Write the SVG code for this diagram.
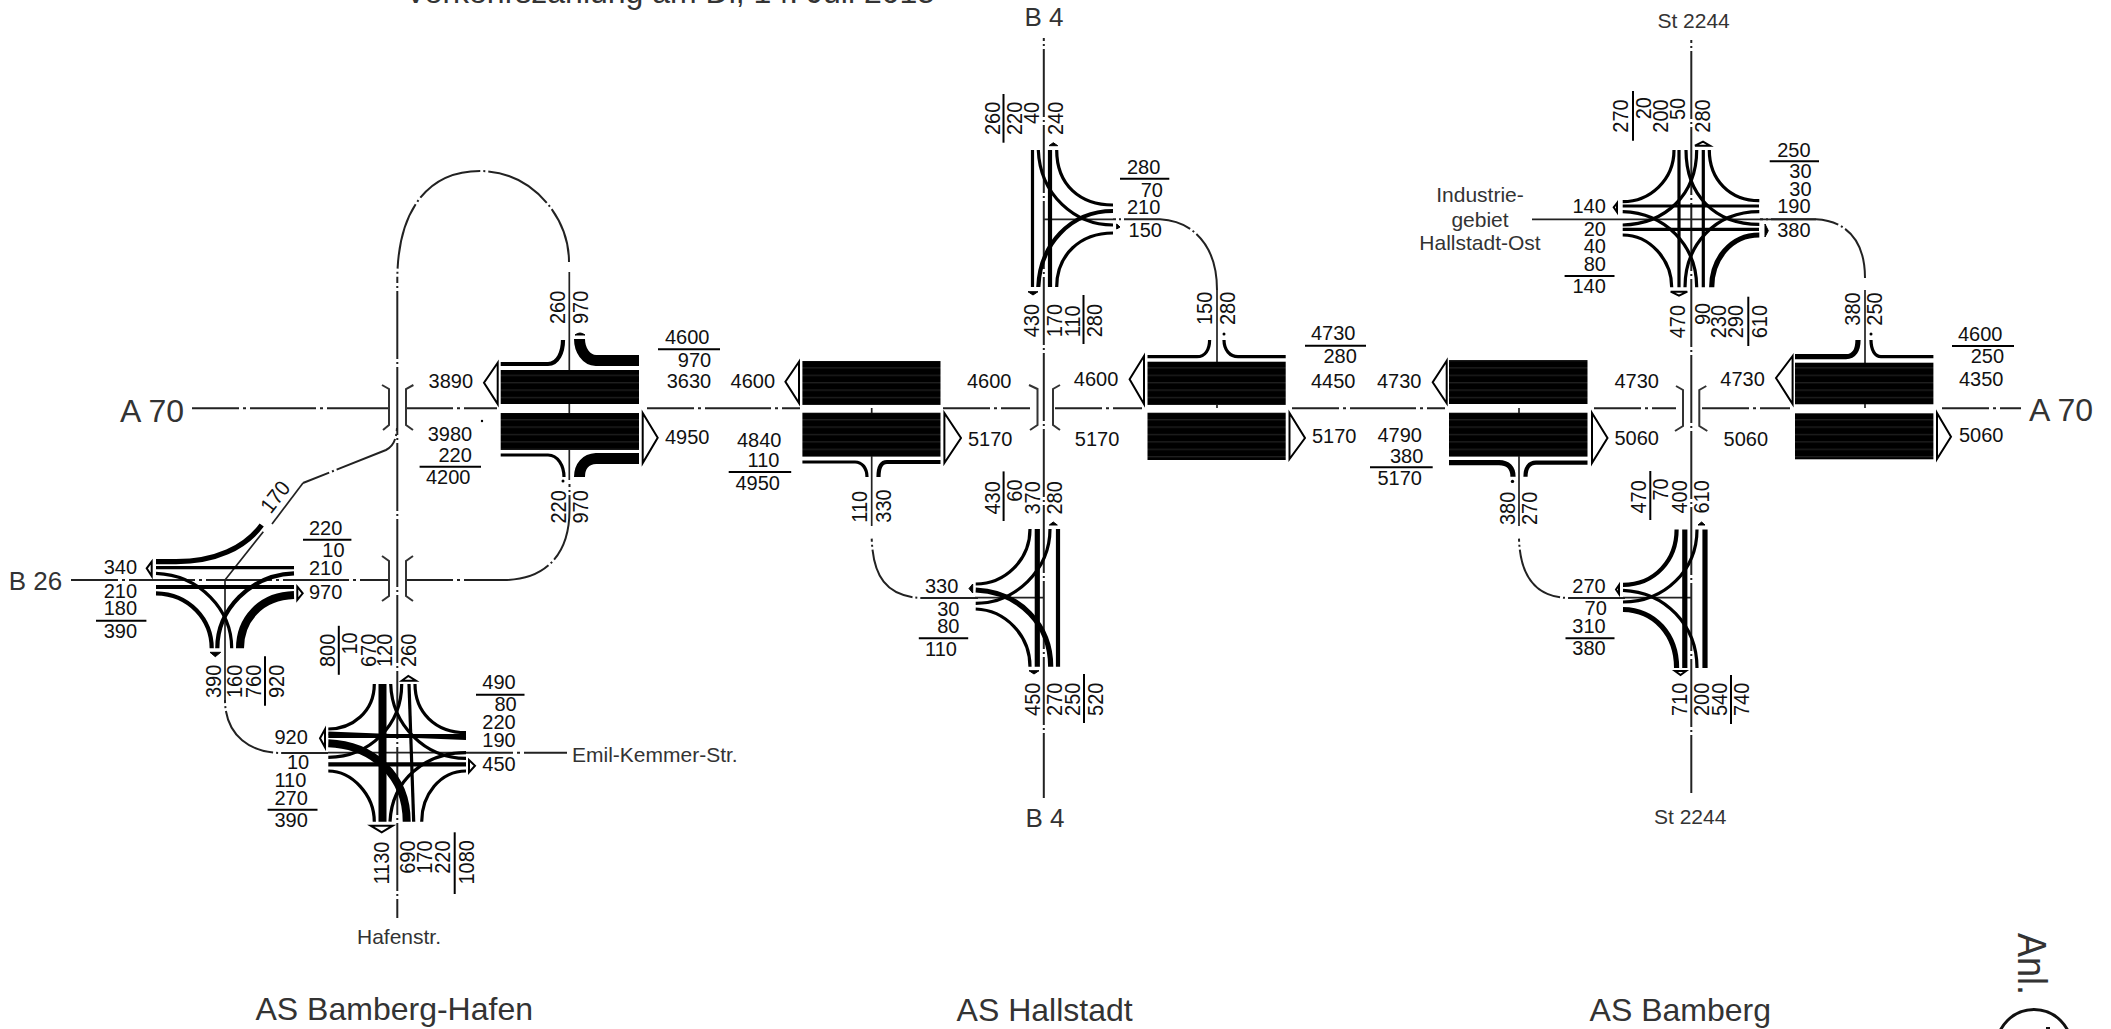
<svg xmlns="http://www.w3.org/2000/svg" width="2111" height="1029" viewBox="0 0 2111 1029">
<style>
text{font-family:"Liberation Sans",Arial,sans-serif;font-size:20px;fill:#111}
.r{fill:#333;font-size:21px}
.b{fill:#333;font-size:26px}
.h{fill:#333;font-size:32px}
.ax,.lk,.l,.u,.ar{fill:none;stroke:#000}
.ax{stroke:#222;stroke-width:2;stroke-dasharray:66 4 3 4;stroke-dashoffset:19}
.lk{stroke:#222;stroke-width:2;stroke-dasharray:68 3 2 3;stroke-dashoffset:65}
.th{fill:none;stroke:#222;stroke-width:1.7}
.u{stroke-width:2}
.ar{stroke-width:2;fill:#fff}
.sa{fill:#000;stroke:#000;stroke-width:1}
.w2{stroke-width:2.4}.w3{stroke-width:3.2}.w4{stroke-width:4.2}.w5{stroke-width:5.2}.w8{stroke-width:8}.w11{stroke-width:11}
.br{fill:none;stroke:#333;stroke-width:2}
</style>
<defs>
<pattern id="st" width="10" height="7.4" patternUnits="userSpaceOnUse"><rect width="10" height="7.4" fill="#000"/><rect y="5" width="10" height="0.8" fill="#fff" opacity=".2"/></pattern>
</defs>
<rect width="2111" height="1029" fill="#fff"/>

<g id="connectors">
<path class="ax" d="M192 408.3H389M406 408.3H497M647 408.3H800M943 408.3H1030M1055 408.3H1142M1292 408.3H1445M1594 408.3H1676M1702 408.3H1790M1942 408.3H2021"/>
<path class="ax" d="M71 580H389M406 580H504"/>
<path class="lk" d="M397.3 280V918"/>
<path class="lk" d="M1043.8 38V798"/>
<path class="lk" d="M1691.3 40V793"/>
<path class="lk" d="M397.3 280C397.3 210 428 171 480 171C530 171 569 215 569 262"/>
<path class="th" d="M569.3 272V480"/>
<path class="lk" d="M569.5 484V510C569.5 555 545 580 504 580"/>
<path class="lk" d="M397 428C396 442 392 447 386 450L303 483"/>
<path class="th" d="M303 483L272 524"/>
<path class="th" d="M263.3 531.7L225 580V700"/>
<path class="lk" d="M225 700C225 735 250 753 281 753H328"/>
<path class="ax" d="M466 752.7H567"/>
<path class="th" d="M328 752.7H466"/>
<path class="th" d="M871.7 408V526"/>
<path class="lk" d="M871.7 538.6C873 575 885 598 925 598H978"/>
<path class="th" d="M975 597.7H1044"/>
<path class="th" d="M1044 219.3H1113"/>
<path class="lk" d="M1113 219.3H1160C1195 221 1217 248 1217 290"/>
<path class="th" d="M1217 290V408"/>
<path class="th" d="M1519 408V526"/>
<path class="lk" d="M1519 538.6C1520 575 1535 598 1570 598H1625"/>
<path class="th" d="M1623 597.7H1691"/>
<path class="th" d="M1532 219.3H1816"/>
<path class="lk" d="M1760 219.3H1816C1850 221 1865 245 1865 278"/>
<path class="th" d="M1865 290V408"/>
<path class="br" d="M382 385L389 389V425L383 430M413.4 385L406 389V425L413 430"/>
<path class="br" d="M382 556L389 561V596L382 601M413 556L406 561V596L413 601"/>
<path class="br" d="M1029 385L1037.5 389V425L1030 430M1060 385L1053 389V425L1060 430"/>
<path class="br" d="M1676 386L1683 390V426L1675 431M1706.3 386L1699.3 390V426L1707.3 431"/>
</g>

<g id="as-bamberg-hafen-ramps">
<rect x="500.7" y="370" width="138.3" height="34" fill="url(#st)"/>
<rect x="500.7" y="413" width="138.3" height="37" fill="url(#st)"/>
<path class="l w4" d="M500.7 364H548C558 364 563 352 563 340"/>
<path class="l w11" d="M639 360.5H596C586 360 579.5 350 579.5 339"/>
<path class="l w3" d="M500.7 455H548C558 455 564 466 564 477"/>
<path class="l w11" d="M639 458.5H596C586 459 579.5 466 579.5 477"/>
<path class="sa" d="M575 335Q580 331 585 335Z"/>
<circle cx="563" cy="481" r="1.5"/><circle cx="482" cy="421" r="1.2"/>
<path class="ar" d="M497.7 362.7L484 382.7L497.7 404Z"/>
<path class="ar" d="M642.7 413L657.7 437.7L642.7 463Z"/>
<text x="428.6" y="388.3">3890</text>
<text x="427.7" y="440.7">3980</text>
<text x="438.4" y="461.7">220</text>
<path class="u" d="M419.6 466.7H481"/>
<text x="426" y="484">4200</text>
<text x="665" y="344">4600</text>
<path class="u" d="M658 349.3H720"/>
<text x="677.8" y="367">970</text>
<text x="666.7" y="388.3">3630</text>
<text x="665" y="444.3">4950</text>
<text transform="translate(565 324) rotate(-90) scale(1 1.08)">260</text>
<text transform="translate(588 324) rotate(-90) scale(1 1.08)">970</text>
<text transform="translate(566 523.6) rotate(-90) scale(1 1.08)">220</text>
<text transform="translate(588 523.6) rotate(-90) scale(1 1.08)">970</text>
</g>

<g id="as-bamberg-hafen-west">
<path class="l w3" d="M156 567.7H294"/>
<path class="l w4" d="M156 587H294"/>
<path class="l w5" d="M156 561.7H176C215 561.7 245 548 261.7 525"/>
<path class="l w3" d="M156 573.3C200 575 231.7 610 231.7 648.3"/>
<path class="l w4" d="M156 593.3C190 594 211.7 620 211.7 648.3"/>
<path class="l w4" d="M294 573.3C250 575 217.3 610 217.3 648.3"/>
<path class="l w8" d="M294 595C260 596 240 620 240 648.3"/>
<path class="ar" d="M151.7 561.7L146.7 568.3L151.7 576Z"/>
<path class="ar" d="M297.3 586.7L302.7 593.3L297.3 600Z"/>
<path class="sa" d="M210 652.3H220.7L215.3 656.7Z"/>
<text x="103.7" y="574.2">340</text>
<text x="103.7" y="597.8">210</text>
<text x="103.7" y="615.4">180</text>
<path class="u" d="M96 620.8H146.4"/>
<text x="103.7" y="637.7">390</text>
<text x="309" y="535.4">220</text>
<path class="u" d="M303 539.8H351.4"/>
<text x="322.3" y="557.4">10</text>
<text x="309" y="575">210</text>
<text x="309" y="598.5">970</text>
<text transform="translate(220.5 698) rotate(-90) scale(1 1.08)">390</text>
<text transform="translate(242.4 698) rotate(-90) scale(1 1.08)">160</text>
<text transform="translate(260.8 698) rotate(-90) scale(1 1.08)">760</text>
<text transform="translate(283.6 698) rotate(-90) scale(1 1.08)">920</text>
<path class="u" d="M265 656.2V705.8"/>
<text transform="translate(281 501.5) rotate(-52) scale(1 1.08)" text-anchor="middle">170</text>
</g>

<g id="as-bamberg-hafen-south">
<path class="l w4" d="M328.3 736H466"/>
<path class="l w3" d="M328.3 733L466 738.5"/>
<path class="l w4" d="M328.3 764.3H466"/>
<path class="l w8" d="M382.5 684V821.7"/>
<path class="l w3" d="M409 684L413.7 821.7"/>
<path class="l w3" d="M374.3 684C374.3 712 352 729 328.3 729"/>
<path class="l w3" d="M415 684C415 712 435 732.7 466 732.7"/>
<path class="l w3" d="M374.3 821.7C374.3 795 352 771 328.3 771"/>
<path class="l w3" d="M421.7 821.7C421.7 795 440 771 466 771"/>
<path class="l w8" d="M328.3 743.3C372 745 406.7 775 406.7 821.7"/>
<path class="l w3" d="M390.7 684C392 725 425 758.3 466 758.3"/>
<path class="l w3" d="M328.3 757.3C370 757 401.7 725 401.7 684"/>
<path class="l w3" d="M390 821.7C392 780 425 752.7 466 752.7"/>
<path class="ar" d="M325 729.3L320 738.3L325 747.3Z"/>
<path class="ar" d="M401.7 680.7L408.3 676L416 680.7Z"/>
<path class="ar" d="M370.7 825.7H392.7L381.7 832.3Z"/>
<path class="ar" d="M469 760L475 765.7L469 772.3Z"/>
<text transform="translate(335.4 667) rotate(-90) scale(1 1.08)">800</text>
<text transform="translate(357.2 654.5) rotate(-90) scale(1 1.08)">10</text>
<path class="u" d="M338.8 625.8V674.8"/>
<text transform="translate(375.7 667) rotate(-90) scale(1 1.08)">670</text>
<text transform="translate(391.7 667) rotate(-90) scale(1 1.08)">120</text>
<text transform="translate(416 667) rotate(-90) scale(1 1.08)">260</text>
<text x="482.3" y="689">490</text>
<path class="u" d="M476 694.7H524.5"/>
<text x="494.4" y="710.9">80</text>
<text x="482.3" y="729.4">220</text>
<text x="482.3" y="747">190</text>
<text x="482.3" y="771">450</text>
<text x="274.4" y="743.6">920</text>
<text x="287" y="769">10</text>
<text x="274.4" y="786.8">110</text>
<text x="274.4" y="804.7">270</text>
<path class="u" d="M267.6 809.7H317.5"/>
<text x="274.4" y="827.3">390</text>
<text transform="translate(388.7 884.6) rotate(-90) scale(1 1.08)">1130</text>
<text transform="translate(415.4 873.8) rotate(-90) scale(1 1.08)">690</text>
<text transform="translate(432.4 873.8) rotate(-90) scale(1 1.08)">170</text>
<text transform="translate(449.8 873.8) rotate(-90) scale(1 1.08)">220</text>
<text transform="translate(473.6 884.6) rotate(-90) scale(1 1.08)">1080</text>
<path class="u" d="M454.7 832.3V894"/>
</g>

<g id="as-hallstadt-ramps">
<rect x="802.4" y="361" width="138.1" height="44" fill="url(#st)"/>
<rect x="802.4" y="412.7" width="138.1" height="44" fill="url(#st)"/>
<path class="l w3" d="M802.4 462H855C862 462 867 468 867 477"/>
<path class="l w4" d="M940.5 462H887C881 462 878.5 468 878.5 477"/>
<path class="ar" d="M799 361.7L785.4 381.7L799 403Z"/>
<path class="ar" d="M944.4 413L961 438L944.4 463Z"/>
<rect x="1147.5" y="361.7" width="138.2" height="43.3" fill="url(#st)"/>
<rect x="1147.5" y="412.7" width="138.2" height="47.3" fill="url(#st)"/>
<path class="l w3" d="M1147.5 356.7H1197C1205 356.7 1209.6 350 1209.6 340"/>
<path class="l w3" d="M1285.7 356.7H1238C1230 356.7 1224 350 1224 340"/>
<circle cx="1224" cy="334" r="1.5"/>
<path class="ar" d="M1144 356L1129.6 379.3L1144 404Z"/>
<path class="ar" d="M1289.5 413L1305 438L1289.5 459Z"/>
<text x="730.6" y="388.3">4600</text>
<text x="737" y="446.7">4840</text>
<text x="747.6" y="467.3">110</text>
<path class="u" d="M728.7 472H791.2"/>
<text x="735.5" y="490">4950</text>
<text x="967" y="387.7">4600</text>
<text x="968" y="445.7">5170</text>
<text x="1073.8" y="385.7">4600</text>
<text x="1074.8" y="445.7">5170</text>
<text x="1311" y="340">4730</text>
<path class="u" d="M1305 345.7H1366"/>
<text x="1323.5" y="363.3">280</text>
<text x="1311" y="388.3">4450</text>
<text x="1312" y="442.7">5170</text>
<text transform="translate(867 522.7) rotate(-90) scale(1 1.08)">110</text>
<text transform="translate(890.6 522.7) rotate(-90) scale(1 1.08)">330</text>
<text transform="translate(1212 325) rotate(-90) scale(1 1.08)">150</text>
<text transform="translate(1235 325) rotate(-90) scale(1 1.08)">280</text>
</g>

<g id="as-hallstadt-north">
<path class="l w3" d="M1032.5 150V287"/>
<path class="l w3" d="M1038.3 150C1040 195 1075 225 1113 225"/>
<path class="l w4" d="M1050 150V287"/>
<path class="l w3" d="M1056.7 150C1056.7 185 1080 205 1113 205"/>
<path class="l w3" d="M1056.7 287C1056.7 255 1080 233 1113 233"/>
<path class="l w4" d="M1038.3 287C1040 245 1070 211 1113 211"/>
<path class="sa" d="M1049 145.7L1053.3 142.7L1057.7 145.7Z"/>
<path class="sa" d="M1028 291.7H1038L1033 295Z"/>
<path class="sa" d="M1116.7 224L1120 227L1116.7 229Z"/>
<text transform="translate(999.7 135) rotate(-90) scale(1 1.08)">260</text>
<text transform="translate(1022 135) rotate(-90) scale(1 1.08)">220</text>
<text transform="translate(1038.5 124) rotate(-90) scale(1 1.08)">40</text>
<text transform="translate(1062.7 135) rotate(-90) scale(1 1.08)">240</text>
<path class="u" d="M1003.5 94V142.7"/>
<text transform="translate(1039 337.3) rotate(-90) scale(1 1.08)">430</text>
<text transform="translate(1061.7 337.3) rotate(-90) scale(1 1.08)">170</text>
<text transform="translate(1080 337.3) rotate(-90) scale(1 1.08)">110</text>
<text transform="translate(1102 337.3) rotate(-90) scale(1 1.08)">280</text>
<path class="u" d="M1083.5 295V344"/>
<text x="1127" y="174">280</text>
<path class="u" d="M1120 178.7H1169.3"/>
<text x="1140.7" y="196.7">70</text>
<text x="1127" y="214">210</text>
<text x="1128.6" y="236.7">150</text>
</g>

<g id="as-hallstadt-south">
<path class="l w3" d="M1030 529C1030 560 1005 584 975.7 584"/>
<path class="l w5" d="M1037.3 529V666.7"/>
<path class="l w3" d="M1050 529C1050 570 1015 603.3 975.7 603.3"/>
<path class="l w4" d="M1058 529V666.7"/>
<path class="l w5" d="M975.7 590C1020 592 1050.7 625 1050.7 666.7"/>
<path class="l w3" d="M975.7 609C1005 610 1030 635 1030 666.7"/>
<path class="sa" d="M972.7 584V593L969 588.5Z"/>
<path class="sa" d="M1049.3 525L1053.3 522L1057.3 525Z"/>
<path class="sa" d="M1029 670.7H1039L1034 674Z"/>
<text transform="translate(999.7 514.6) rotate(-90) scale(1 1.08)">430</text>
<text transform="translate(1022 501.7) rotate(-90) scale(1 1.08)">60</text>
<path class="u" d="M1003.6 471.4V521"/>
<text transform="translate(1040 514.6) rotate(-90) scale(1 1.08)">370</text>
<text transform="translate(1061.8 514.6) rotate(-90) scale(1 1.08)">280</text>
<text x="925" y="593">330</text>
<text x="937.2" y="616">30</text>
<text x="937.2" y="632.8">80</text>
<path class="u" d="M918.8 638.3H968.2"/>
<text x="925" y="655.7">110</text>
<text transform="translate(1040 715.9) rotate(-90) scale(1 1.08)">450</text>
<text transform="translate(1061.8 715.9) rotate(-90) scale(1 1.08)">270</text>
<text transform="translate(1080 715.9) rotate(-90) scale(1 1.08)">250</text>
<text transform="translate(1103 715.9) rotate(-90) scale(1 1.08)">520</text>
<path class="u" d="M1084 674V723"/>
</g>

<g id="as-bamberg-ramps">
<rect x="1449" y="360" width="138.5" height="44" fill="url(#st)"/>
<rect x="1449" y="412.7" width="138.5" height="44" fill="url(#st)"/>
<path class="l w5" d="M1449 462.7H1499C1508 462.7 1513 468 1513 476.7"/>
<path class="l w4" d="M1587.5 462.7H1536C1529 462.7 1525.5 468 1525.5 476.7"/>
<circle cx="1512.5" cy="481.4" r="1.7"/>
<path class="ar" d="M1446.7 360.7L1432.7 382.3L1446.7 403.3Z"/>
<path class="ar" d="M1592 413L1607.5 438L1592 463Z"/>
<rect x="1795" y="362.7" width="138.4" height="41.6" fill="url(#st)"/>
<rect x="1795" y="413.3" width="138.4" height="46" fill="url(#st)"/>
<path class="l w5" d="M1795 356.7H1846C1854 356.7 1858 350 1858 340"/>
<path class="l w3" d="M1933.4 356.7H1881C1875 356.7 1871 350 1871 340"/>
<circle cx="1871" cy="334" r="1.5"/>
<path class="ar" d="M1792.6 356L1776 378L1792.6 404Z"/>
<path class="ar" d="M1937 413L1951 436.7L1937 459Z"/>
<text x="1377" y="388.3">4730</text>
<text x="1377.5" y="442.3">4790</text>
<text x="1390" y="462.7">380</text>
<path class="u" d="M1370 467.3H1432.7"/>
<text x="1377.5" y="485">5170</text>
<text x="1614.5" y="388.3">4730</text>
<text x="1614.5" y="445">5060</text>
<text x="1720.3" y="385.7">4730</text>
<text x="1723.6" y="445.7">5060</text>
<text x="1958" y="341">4600</text>
<path class="u" d="M1952 346H2014"/>
<text x="1970.7" y="363.3">250</text>
<text x="1959" y="386">4350</text>
<text x="1959" y="441.7">5060</text>
<text transform="translate(1515 525) rotate(-90) scale(1 1.08)">380</text>
<text transform="translate(1536.8 525) rotate(-90) scale(1 1.08)">270</text>
<text transform="translate(1860 325.7) rotate(-90) scale(1 1.08)">380</text>
<text transform="translate(1882 325.7) rotate(-90) scale(1 1.08)">250</text>
</g>

<g id="as-bamberg-north">
<path class="l w3" d="M1622.7 206H1759M1622.7 229.3H1759"/>
<path class="l w3" d="M1679 150V287.3M1703.3 150V287.3"/>
<path class="l w3" d="M1674 150C1674 180 1650 201.7 1622.7 201.7"/>
<path class="l w3" d="M1709.3 150C1709.3 180 1730 200.7 1759.3 200.7"/>
<path class="l w3" d="M1671.7 287.3C1671.7 260 1650 235 1622.7 235"/>
<path class="l w5" d="M1711.7 287.3C1711.7 260 1730 235 1759.3 235"/>
<path class="l w3" d="M1622.7 211.7C1665 213 1696.7 245 1696.7 287.3"/>
<path class="l w3" d="M1622.7 225C1665 224 1696.7 195 1696.7 150"/>
<path class="l w3" d="M1686 150C1686 195 1715 224.3 1759.3 224.3"/>
<path class="l w3" d="M1685 287.3C1685 245 1715 211.7 1759.3 211.7"/>
<path class="ar" d="M1617 203L1613.7 207.3L1617 212Z"/>
<path class="ar" d="M1695 145.7L1703 141.7L1710 145.7Z"/>
<path class="ar" d="M1670.7 291.7H1687.3L1679 295.7Z"/>
<path class="sa" d="M1765 224V237L1768.3 230.7Z"/>
<text x="1657.4" y="28.3" class="r">St 2244</text>
<text transform="translate(1628 132.7) rotate(-90) scale(1 1.08)">270</text>
<text transform="translate(1651.3 119.3) rotate(-90) scale(1 1.08)">20</text>
<path class="u" d="M1633 91V140.7"/>
<text transform="translate(1667.6 132.7) rotate(-90) scale(1 1.08)">200</text>
<text transform="translate(1685.4 120) rotate(-90) scale(1 1.08)">50</text>
<text transform="translate(1710 132.7) rotate(-90) scale(1 1.08)">280</text>
<text x="1777.2" y="156.7">250</text>
<path class="u" d="M1769.7 161.3H1819"/>
<text x="1789.3" y="178.3">30</text>
<text x="1789.3" y="195.7">30</text>
<text x="1777.2" y="213.3">190</text>
<text x="1777.2" y="236.7">380</text>
<text x="1572.5" y="213.3">140</text>
<text x="1583.7" y="236">20</text>
<text x="1583.7" y="253.3">40</text>
<text x="1583.7" y="270.7">80</text>
<path class="u" d="M1564.6 276H1614.5"/>
<text x="1572.5" y="293.3">140</text>
<text transform="translate(1685.4 338.3) rotate(-90) scale(1 1.08)">470</text>
<text transform="translate(1710 325) rotate(-90) scale(1 1.08)">90</text>
<text transform="translate(1726.4 338.3) rotate(-90) scale(1 1.08)">230</text>
<text transform="translate(1742.7 338.3) rotate(-90) scale(1 1.08)">290</text>
<text transform="translate(1767 338.3) rotate(-90) scale(1 1.08)">610</text>
<path class="u" d="M1748.3 296.7V346"/>
</g>

<g id="as-bamberg-south">
<path class="l w4" d="M1676.6 529.4C1676.6 560 1655 584.8 1623 584.8"/>
<path class="l w5" d="M1684.8 529.4V668"/>
<path class="l w3" d="M1697 529.4C1697 570 1665 602 1623 602"/>
<path class="l w5" d="M1705 529.4V668"/>
<path class="l w3" d="M1623 590.3C1665 592 1697 625 1697 668"/>
<path class="l w5" d="M1623 609.5C1655 610 1676.6 635 1676.6 668"/>
<path class="ar" d="M1619 585L1616 589.5L1619 594Z"/>
<path class="sa" d="M1698 525L1701.6 522L1705 525Z"/>
<path class="ar" d="M1675 671H1686L1680.5 675Z"/>
<text transform="translate(1645.8 513.5) rotate(-90) scale(1 1.08)">470</text>
<text transform="translate(1667.6 500.6) rotate(-90) scale(1 1.08)">70</text>
<path class="u" d="M1650.3 471V520"/>
<text transform="translate(1686.6 513.5) rotate(-90) scale(1 1.08)">400</text>
<text transform="translate(1709.3 513.5) rotate(-90) scale(1 1.08)">610</text>
<text x="1572.3" y="593">270</text>
<text x="1584.6" y="615">70</text>
<text x="1572.3" y="632.8">310</text>
<path class="u" d="M1565.5 638.3H1614.5"/>
<text x="1572.3" y="655">380</text>
<text transform="translate(1686.6 716) rotate(-90) scale(1 1.08)">710</text>
<text transform="translate(1709.3 716) rotate(-90) scale(1 1.08)">200</text>
<text transform="translate(1726.5 716) rotate(-90) scale(1 1.08)">540</text>
<text transform="translate(1749 716) rotate(-90) scale(1 1.08)">740</text>
<path class="u" d="M1731 675V724"/>
<text x="1654" y="823.7" class="r">St 2244</text>
</g>

<g id="labels">
<text x="405" y="2.5" class="h">Verkehrszählung am Di, 14. Juli 2015</text>
<text x="120" y="422" class="h">A 70</text>
<text x="2029" y="421" class="h">A 70</text>
<text x="8.7" y="590.4" class="b">B 26</text>
<text x="1024.4" y="25.7" class="b">B 4</text>
<text x="1025.4" y="826.7" class="b">B 4</text>
<text x="572" y="761.5" class="r">Emil-Kemmer-Str.</text>
<text x="357" y="943.6" class="r">Hafenstr.</text>
<text x="1480" y="201.7" class="r" text-anchor="middle">Industrie-</text>
<text x="1480" y="226.7" class="r" text-anchor="middle">gebiet</text>
<text x="1480" y="250" class="r" text-anchor="middle">Hallstadt-Ost</text>
<text x="255.5" y="1019.6" class="h">AS Bamberg-Hafen</text>
<text x="956.6" y="1020.5" class="h">AS Hallstadt</text>
<text x="1589.6" y="1020.5" class="h">AS Bamberg</text>
<text transform="matrix(0 1 -1.13 0 2017.5 933)" class="h" style="font-size:36px">Anl.</text>
<circle cx="2034" cy="1047" r="37.5" fill="none" stroke="#111" stroke-width="3"/>
<path d="M2046 1028H2050" stroke="#111" stroke-width="2"/>
</g>
</svg>
